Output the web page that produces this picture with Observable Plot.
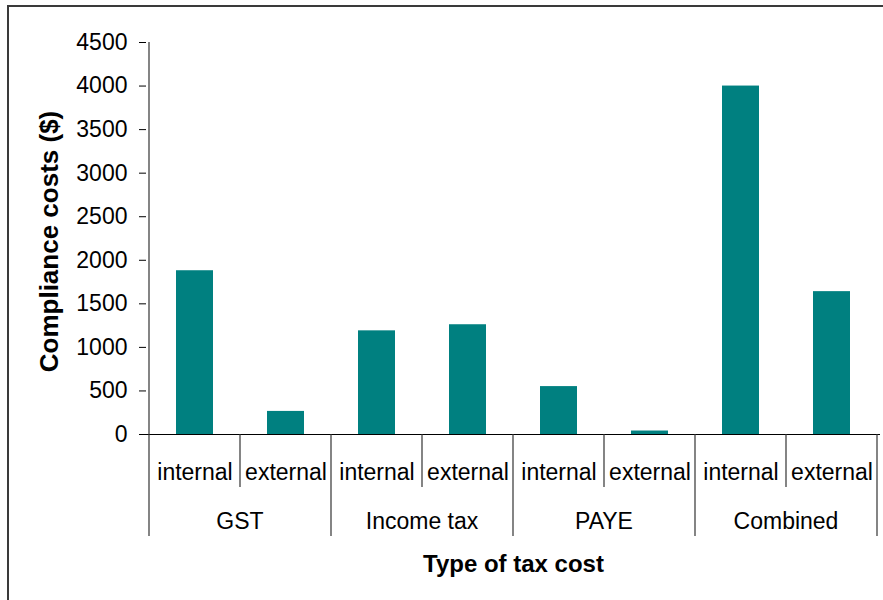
<!DOCTYPE html>
<html>
<head>
<meta charset="utf-8">
<script src="https://cdn.jsdelivr.net/npm/d3@7"></script>
<script src="https://cdn.jsdelivr.net/npm/@observablehq/plot@0.6"></script>
<style>
  html, body { margin: 0; padding: 0; background: #fff; }
  #wrap { position: relative; width: 883px; height: 600px; overflow: hidden; }
  #frame { position: absolute; left: 7px; top: 5px; width: 900px; height: 620px;
           border-left: 2px solid #3a3a3a; border-top: 2px solid #3a3a3a; pointer-events: none; }
</style>
</head>
<body>
<div id="wrap"><div id="frame"></div></div>
<script>
// Tax compliance costs by type of tax, split into internal and external costs
const groups = ["GST", "Income tax", "PAYE", "Combined"];
const kinds = ["internal", "external"];
const internalCosts = [1880, 1190, 550, 4000];
const externalCosts = [265, 1260, 40, 1640];
const yTicks = [0, 500, 1000, 1500, 2000, 2500, 3000, 3500, 4000, 4500];
const xTitle = "Type of tax cost";
const yTitle = "Compliance costs ($)";

const rows = groups.flatMap((g, i) => [
  {group: g, kind: kinds[0], cost: internalCosts[i]},
  {group: g, kind: kinds[1], cost: externalCosts[i]}
]).map(d => ({...d, key: `${d.group} · ${d.kind}`}));
const keys = rows.map(d => d.key);

const font = "'Liberation Sans', Arial, sans-serif";

const chart = Plot.plot({
  width: 883,
  height: 600,
  marginLeft: 146,
  marginRight: 3,
  marginTop: 42,
  marginBottom: 166,
  style: {fontFamily: font, fontSize: "23px", color: "#000", background: "transparent", overflow: "visible"},
  x: {domain: keys, padding: 0, axis: null},
  y: {domain: [0, 4500], ticks: yTicks, tickSize: 7, tickPadding: 12, tickFormat: d => String(d), label: null},
  marks: [
    Plot.barY(rows, {x: "key", y: "cost", fill: "#008080", insetLeft: 27, insetRight: 27}),
    Plot.ruleY([0], {stroke: "#000", strokeWidth: 1.2}),
    Plot.text(rows, {x: "key", text: "kind", frameAnchor: "bottom", dy: 45, fontSize: 23}),
    Plot.text([xTitle], {frameAnchor: "bottom", dy: 137, fontSize: 24, fontWeight: "bold"}),
    Plot.text([yTitle], {frameAnchor: "left", textAnchor: "middle", rotate: -90, dx: -97, dy: 3, fontSize: 26, fontWeight: "bold"})
  ]
});

// Category axis furniture: axis line, separators and group labels, placed with the chart's scales
const svg = d3.select(chart);
const xs = chart.scale("x");
const ys = chart.scale("y");
const bw = xs.bandwidth;
const y0 = ys.apply(0);
const yTop = ys.apply(yTicks[yTicks.length - 1]);
const left = xs.apply(keys[0]);
const innerDrop = 53, groupDrop = 102;

const deco = svg.append("g").attr("stroke", "#333").attr("stroke-width", 1.2).attr("fill", "none");
deco.append("line").attr("x1", left).attr("x2", left).attr("y1", yTop).attr("y2", y0);
keys.forEach((k, i) => {
  const xpos = xs.apply(k);
  deco.append("line").attr("x1", xpos).attr("x2", xpos)
    .attr("y1", y0).attr("y2", y0 + (i % 2 === 0 ? groupDrop : innerDrop));
});
const rightEdge = xs.apply(keys[keys.length - 1]) + bw;
deco.append("line").attr("x1", rightEdge).attr("x2", rightEdge).attr("y1", y0).attr("y2", y0 + groupDrop);

const labels = svg.append("g").attr("font-family", font).attr("font-size", 23)
  .attr("text-anchor", "middle").attr("fill", "#000");
groups.forEach(g => {
  labels.append("text")
    .attr("x", xs.apply(`${g} · ${kinds[0]}`) + bw)
    .attr("y", y0 + 95)
    .text(g);
});

document.getElementById("wrap").prepend(chart);
</script>
</body>
</html>
